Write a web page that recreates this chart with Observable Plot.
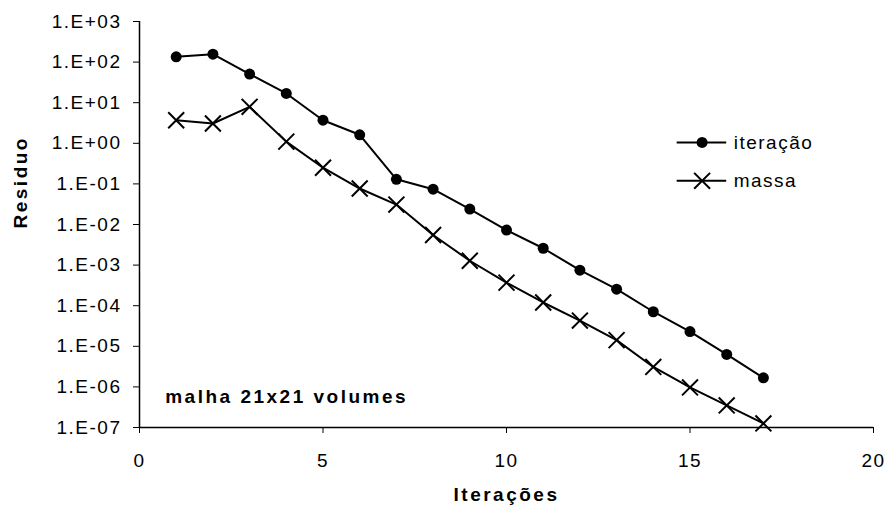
<!DOCTYPE html>
<html><head><meta charset="utf-8">
<script src="https://cdn.jsdelivr.net/npm/d3@7"></script>
<script src="https://cdn.jsdelivr.net/npm/@observablehq/plot@0.6"></script>
<style>
html,body{margin:0;padding:0;background:#fff;}
</style></head><body><div id="chart"></div>
<script>
// ---- data ----
const iterations = [1,2,3,4,5,6,7,8,9,10,11,12,13,14,15,16,17];
const iteracao = [135,157,50.6,16.9,3.7,1.62,0.13,0.074,0.024,0.0073,0.0026,7.5e-4,2.56e-4,7.1e-5,2.3e-5,6.3e-6,1.67e-6];
const massa = [3.7,3.07,7.9,1.1,0.25,0.077,0.031,0.0055,0.00128,3.7e-4,1.2e-4,4.3e-5,1.42e-5,3.1e-6,9.7e-7,3.5e-7,1.26e-7];
const seriesNames = ["iteração","massa"];
const xTicks = [0,5,10,15,20];
const yTicks = [1e3,1e2,1e1,1e0,1e-1,1e-2,1e-3,1e-4,1e-5,1e-6,1e-7];
const yTickLabels = ["1.E+03","1.E+02","1.E+01","1.E+00","1.E-01","1.E-02","1.E-03","1.E-04","1.E-05","1.E-06","1.E-07"];
const xLabel = "Iterações";
const yLabel = "Residuo";
const annotationText = "malha 21x21 volumes";
const annotationAt = {x: 0.7, y: 5.7e-7};
const legendY = [1.05, 0.119];
const legendLineX = [14.65, 16.0];
const legendMarkX = 15.33;
const legendTextX = 16.19;

// ---- build ----
const rowsI = iterations.map((x,i)=>({x, y: iteracao[i]}));
const rowsM = iterations.map((x,i)=>({x, y: massa[i]}));
const legend = seriesNames.map((name,i)=>({name, y: legendY[i]}));

const chart = Plot.plot({
  width: 889, height: 513,
  marginLeft: 139, marginRight: 16, marginTop: 21, marginBottom: 86,
  style: {fontFamily: "'Liberation Sans', Arial, sans-serif", fontSize: "19px", background: "#fff", color: "#000"},
  x: {domain: [0,20], ticks: xTicks, tickSize: 6, tickPadding: 20, label: null},
  y: {type: "log", domain: [1e-7, 1e3], ticks: yTicks, tickFormat: d => yTickLabels[yTicks.indexOf(d)], tickSize: 6, tickPadding: 12, label: null},
  marks: [
    Plot.ruleX([0], {stroke: "black", strokeWidth: 1.5}),
    Plot.ruleY([1e-7], {stroke: "black", strokeWidth: 1.5}),
    Plot.line(rowsI, {x: "x", y: "y", stroke: "black", strokeWidth: 2}),
    Plot.line(rowsM, {x: "x", y: "y", stroke: "black", strokeWidth: 2}),
    Plot.dot(rowsI, {x: "x", y: "y", r: 5.5, fill: "black", stroke: "none"}),
    Plot.dot(rowsM, {x: "x", y: "y", symbol: "times", r: 7.3, stroke: "black", strokeWidth: 2}),
    Plot.ruleY(legend, {y: "y", x1: () => legendLineX[0], x2: () => legendLineX[1], stroke: "black", strokeWidth: 2}),
    Plot.dot(legend.slice(0,1), {x: () => legendMarkX, y: "y", r: 5.5, fill: "black", stroke: "none"}),
    Plot.dot(legend.slice(1), {x: () => legendMarkX, y: "y", symbol: "times", r: 7.3, stroke: "black", strokeWidth: 2}),
    Plot.text(legend, {x: () => legendTextX, y: "y", text: "name", textAnchor: "start", fill: "black"}),
    Plot.text([annotationText], {x: () => annotationAt.x, y: () => annotationAt.y, text: d => d, textAnchor: "start", fontWeight: "bold", fill: "black"}),
    Plot.text([yLabel], {frameAnchor: "left", dx: -119, dy: 4, rotate: -90, text: d => d, fontWeight: "bold", fill: "black"}),
    Plot.text([xLabel], {frameAnchor: "bottom", dy: 73, text: d => d, fontWeight: "bold", fill: "black"})
  ]
});
chart.setAttribute("letter-spacing", "1.5px");
chart.querySelectorAll('g[font-weight="bold"]').forEach(g => g.setAttribute("letter-spacing", "2.5px"));
document.getElementById("chart").appendChild(chart);
</script>
</body></html>
